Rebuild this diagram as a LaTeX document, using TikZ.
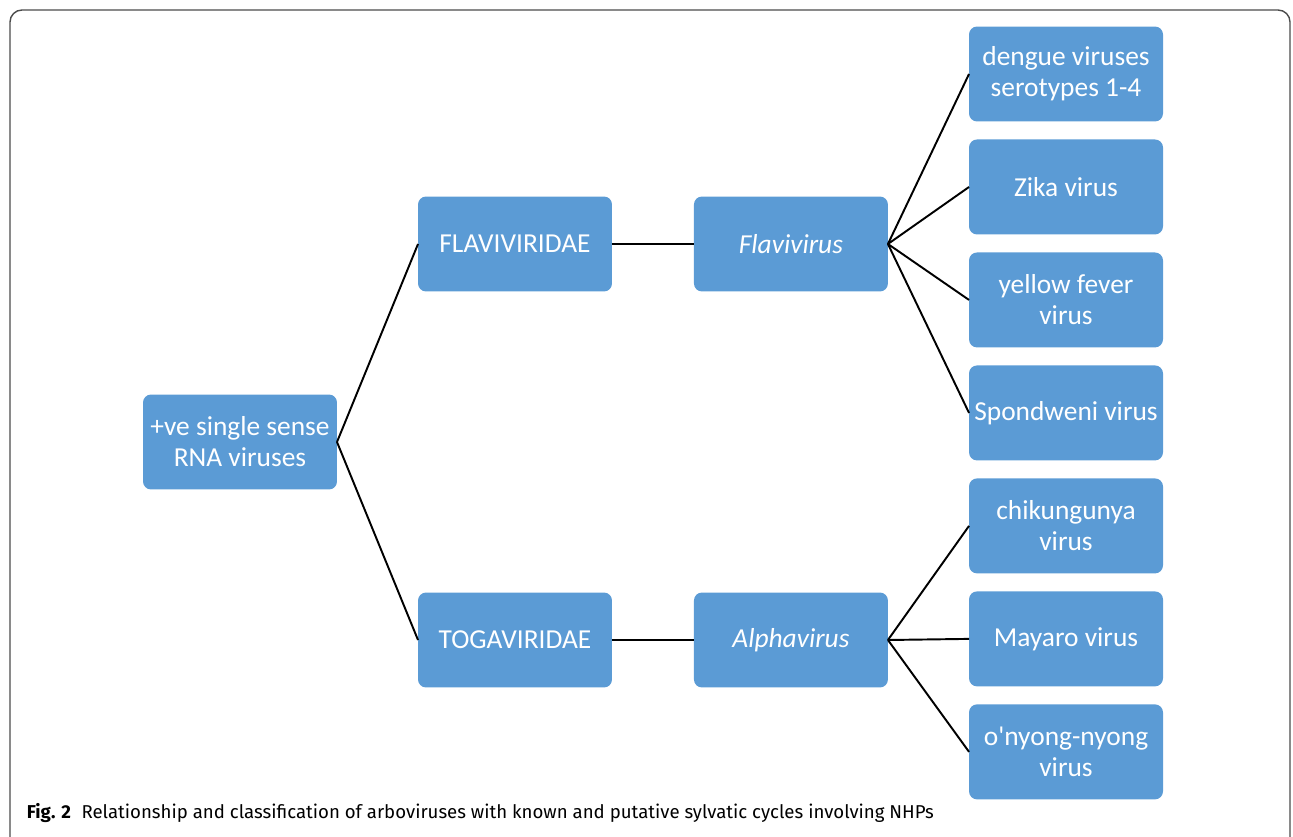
\documentclass[tikz,border=0pt]{standalone}
\usepackage{fontspec}
\setmainfont{Carlito}
\newfontfamily\capfont{Fira Sans}
\usetikzlibrary{positioning}
\definecolor{boxblue}{RGB}{91,155,213}

\begin{document}
\begin{tikzpicture}[x=0.02cm,y=-0.02cm,line width=1.1pt,node distance=0.36cm,
  box node/.style={rectangle,rounded corners=0.16cm,fill=boxblue,text=white,
    minimum width=3.88cm,minimum height=1.9cm,inner sep=1pt,outer sep=0pt,align=center,
    font=\fontsize{15.6}{17.6}\selectfont}]

  \useasboundingbox (0,0) rectangle (1293,837);
  \draw[line width=0.8pt,black!70,rounded corners=0.24cm] (10,837) -- (10,10) -- (1290,10) -- (1290,837);

  \node[box node] (root) at (240,442) {+ve single sense\\RNA viruses};
  \node[box node] (flavi) at (515,244) {FLAVIVIRIDAE};
  \node[box node] (toga) at (515,640) {TOGAVIRIDAE};
  \node[box node] (flavgen) [right=1.64cm of flavi] {\itshape Flavivirus};
  \node[box node] (alphagen) [right=1.64cm of toga] {\itshape Alphavirus};

  \node[box node] (dengue) at (1066,74) {dengue viruses\\serotypes 1-4};
  \node[box node] (zika) [below=of dengue] {Zika virus};
  \node[box node] (yellow) [below=of zika] {yellow fever\\virus};
  \node[box node] (spond) [below=of yellow] {Spondweni virus};
  \node[box node] (chik) [below=of spond] {chikungunya\\virus};
  \node[box node] (mayaro) [below=of chik] {Mayaro virus};
  \node[box node] (onyong) [below=of mayaro] {o\textquotesingle nyong-nyong\\virus};

  \path[draw]
    (root.east) edge (flavi.west)
                edge (toga.west)
    (flavi) edge (flavgen)
    (toga) edge (alphagen)
    (flavgen.east) edge (dengue.west)
                   edge (zika.west)
                   edge (yellow.west)
                   edge (spond.west)
    (alphagen.east) edge (chik.west)
                    edge (mayaro.west)
                    edge (onyong.west);

  \node[anchor=base west,inner sep=0pt,font=\capfont\fontsize{10.6}{12}\selectfont] (caption) at (26,818)
    {\textbf{Fig. 2}\hspace{6pt}Relationship and classification of arboviruses with known and putative sylvatic cycles involving NHPs};
\end{tikzpicture}
\end{document}
